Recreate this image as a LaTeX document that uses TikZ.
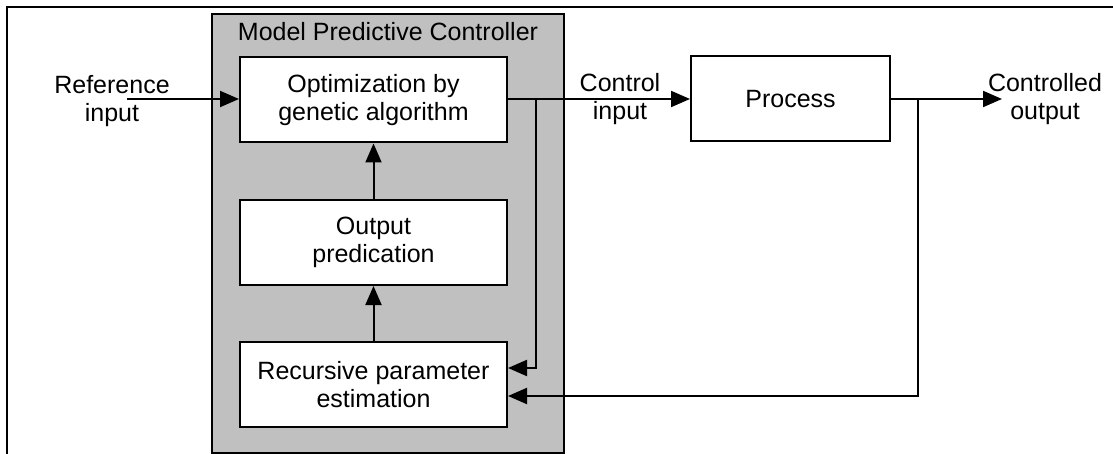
\documentclass[tikz,border=0pt]{standalone}
\usepackage{fontspec}
\setmainfont{Liberation Sans}
\usetikzlibrary{arrows.meta}
\begin{document}
\begin{tikzpicture}[x=1pt,y=-1pt,
  every node/.style={font=\fontsize{25}{28}\selectfont},
  blockbox/.style={draw=black,line width=2pt,fill=white,align=center,
    minimum width=267pt,minimum height=85pt,inner sep=0pt},
  procbox/.style={draw=black,line width=2pt,fill=white,align=center,
    minimum width=199pt,minimum height=85pt,inner sep=0pt},
  mpcbox/.style={draw=black,line width=2pt,fill=mpcgray,
    minimum width=352pt,minimum height=438pt,inner sep=0pt},
  label/.style={align=center,inner sep=0pt,
    font=\fontsize{25}{28}\selectfont},
  wire/.style={line width=2pt},
  arr/.style={wire,-{Triangle[length=19pt,width=16pt]}}]
\definecolor{mpcgray}{RGB}{192,192,192}
\useasboundingbox (0,0) rectangle (1113,454);

% open frame (top and left edges)
\draw[line width=2.4pt] (7,454) -- (7,7) -- (1113,7);

% controller enclosure
\node[mpcbox] (mpc) at (388,233.5) {};
\node[label] (mpctitle) at (388,32) {Model Predictive Controller};

% blocks
\node[blockbox] (opt) at (373.5,100) {Optimization by\\genetic algorithm};
\node[blockbox] (pred) at (373.5,242.5) {Output\\predication};
\node[blockbox] (rpe) at (373.5,384.5) {Recursive parameter\\estimation};
\node[procbox] (proc) at (790.5,99) {Process};

% signal labels
\node[label] (refin) at (112,101) {Reference\\input};
\node[label] (ctrlin) at (620,99) {Control\\input};
\node[label] (ctrlout) at (1045,99) {Controlled\\output};

% junction and end points
\coordinate (refstart) at (127,99);
\coordinate (outend) at (1002,99);
\coordinate (b1) at (536,99);
\coordinate (b2) at (918,99);

% forward path
\draw[arr] (refstart) -- (opt.west |- refstart);
\draw[arr] (opt.east |- b1) -- (proc.west);
\draw[arr] (proc.east) -- (outend);

% internal flow
\draw[arr] (rpe.north) -- (pred.south);
\draw[arr] (pred.north) -- (opt.south);

% feedback paths
\draw[arr] (b1) |- ([yshift=16.5pt]rpe.east);
\draw[arr] (b2) |- ([yshift=-11.5pt]rpe.east);
\end{tikzpicture}
\end{document}
